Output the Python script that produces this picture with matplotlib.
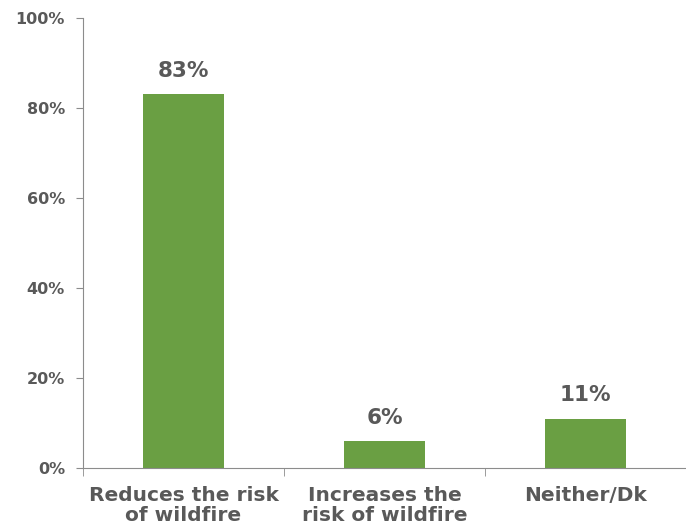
import matplotlib.pyplot as plt
import numpy as np

categories = ['Reduces the risk\nof wildfire', 'Increases the\nrisk of wildfire', 'Neither/Dk']
values = [83, 6, 11]
yticks = [0, 20, 40, 60, 80, 100]

green = '#6a9f43'
grey_text = '#595959'
grey_line = '#8c8c8c'

fig = plt.figure(figsize=(6.86, 5.29), dpi=100)
ax = fig.add_axes([0.121, 0.1153, 0.879, 0.8507])

x = np.arange(len(categories))
ax.bar(x, values, width=0.4, color=green)
for xi, v in zip(x, values):
    ax.text(xi, v + 3, f'{v}%', ha='center', va='bottom', fontsize=15.5,
            fontweight='bold', color=grey_text)

ax.set_xlim(-0.5, len(categories) - 0.5)
ax.set_ylim(0, 100)
ax.set_yticks(yticks)
ax.set_yticklabels([f'{t}%' for t in yticks], fontsize=11.5, fontweight='bold', color=grey_text)
ax.set_xticks(x)
ax.set_xticklabels(categories, fontsize=14.5, fontweight='bold', color=grey_text,
                   family=['Liberation Sans Narrow', 'DejaVu Sans'], linespacing=1.08)
ax.set_xticks(np.arange(len(categories) + 1) - 0.5, minor=True)
ax.tick_params(axis='x', which='major', length=0, pad=13)
ax.tick_params(axis='x', which='minor', length=6, color=grey_line, direction='out')
ax.tick_params(axis='y', length=5, color=grey_line, pad=8)

for s in ['top', 'right']:
    ax.spines[s].set_visible(False)
for s in ['left', 'bottom']:
    ax.spines[s].set_color(grey_line)

fig.savefig('out.png', dpi=100)
